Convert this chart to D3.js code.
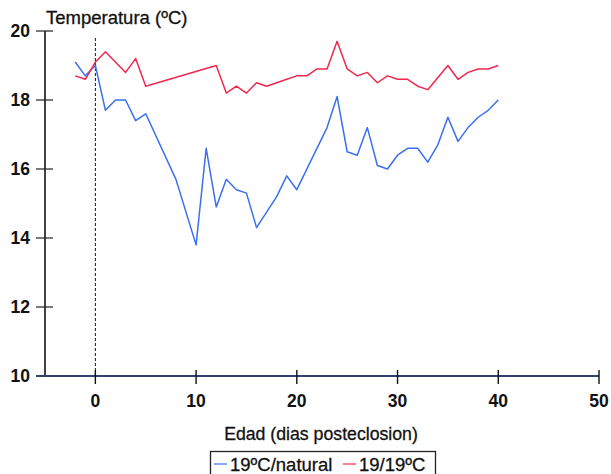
<!DOCTYPE html>
<html>
<head>
<meta charset="utf-8">
<script src="https://cdn.jsdelivr.net/npm/d3@7"></script>
<style>
  html, body { margin: 0; padding: 0; background: #fff; }
  svg { display: block; font-family: "Liberation Sans", Arial, sans-serif; }
</style>
</head>
<body>
<svg id="chart" width="611" height="474"></svg>
<script>
// Age in days post-hatching and water temperature for each treatment
const naturalDays = [-2, -1, 0, 1, 2, 3, 4, 5, 8, 10, 11, 12, 13, 14, 15, 16, 18, 19, 20, 23, 24, 25, 26, 27, 28, 29, 30, 31, 32, 33, 34, 35, 36, 37, 38, 39, 40];
const naturalTemp = [19.1, 18.7, 19.0, 17.7, 18.0, 18.0, 17.4, 17.6, 15.7, 13.8, 16.6, 14.9, 15.7, 15.4, 15.3, 14.3, 15.2, 15.8, 15.4, 17.2, 18.1, 16.5, 16.4, 17.2, 16.1, 16.0, 16.4, 16.6, 16.6, 16.2, 16.7, 17.5, 16.8, 17.2, 17.5, 17.7, 18.0];

const constDays = [-2, -1, 0, 1, 3, 4, 5, 12, 13, 14, 15, 16, 17, 18, 19, 20, 21, 22, 23, 24, 25, 26, 27, 28, 29, 30, 31, 32, 33, 35, 36, 37, 38, 39, 40];
const constTemp = [18.7, 18.6, 19.1, 19.4, 18.8, 19.2, 18.4, 19.0, 18.2, 18.4, 18.2, 18.5, 18.4, 18.5, 18.6, 18.7, 18.7, 18.9, 18.9, 19.7, 18.9, 18.7, 18.8, 18.5, 18.7, 18.6, 18.6, 18.4, 18.3, 19.0, 18.6, 18.8, 18.9, 18.9, 19.0];

const xTicks = [0, 10, 20, 30, 40, 50];
const yTicks = [10, 12, 14, 16, 18, 20];

const seriesNames = ["19ºC/natural", "19/19ºC"];
const seriesColors = ["#3b6ff2", "#f0284e"];

const svg = d3.select("#chart");

const x = d3.scaleLinear().domain([-5, 50]).range([45, 599]);
const y = d3.scaleLinear().domain([10, 20]).range([376, 31]);

// Y axis: plain line with ticks crossing it
svg.append("line")
  .attr("x1", x(-5)).attr("x2", x(-5))
  .attr("y1", y(20)).attr("y2", y(10))
  .attr("stroke", "#111").attr("stroke-width", 1.6);

const yAxis = svg.append("g");
yAxis.selectAll("line").data(yTicks).join("line")
  .attr("x1", x(-5) - 9).attr("x2", x(-5) + 8)
  .attr("y1", d => y(d)).attr("y2", d => y(d))
  .attr("stroke", "#222").attr("stroke-width", 1.2);
yAxis.selectAll("text").data(yTicks).join("text")
  .attr("x", 30).attr("y", d => y(d))
  .attr("dy", "0.36em")
  .attr("text-anchor", "end")
  .attr("font-size", 17.5).attr("font-weight", "bold")
  .attr("fill", "#111")
  .text(d => d);

// X axis
svg.append("line")
  .attr("x1", 36).attr("x2", x(50))
  .attr("y1", y(10)).attr("y2", y(10))
  .attr("stroke", "#34406e").attr("stroke-width", 1.8);

const xAxis = svg.append("g");
xAxis.selectAll("line").data(xTicks).join("line")
  .attr("x1", d => x(d)).attr("x2", d => x(d))
  .attr("y1", y(10) - 6).attr("y2", y(10) + 8)
  .attr("stroke", "#111").attr("stroke-width", 1.4);
xAxis.selectAll("text").data(xTicks).join("text")
  .attr("x", d => x(d)).attr("y", 407)
  .attr("text-anchor", "middle")
  .attr("font-size", 17.5).attr("font-weight", "bold")
  .attr("fill", "#111")
  .text(d => d);

// Hatching day marker
svg.append("line")
  .attr("x1", x(0)).attr("x2", x(0))
  .attr("y1", 38).attr("y2", y(10))
  .attr("stroke", "#111").attr("stroke-width", 1)
  .attr("stroke-dasharray", "3,2");

// Titles
svg.append("text")
  .attr("x", 46).attr("y", 23.5)
  .attr("font-size", 18.5).attr("fill", "#111")
  .attr("stroke", "#111").attr("stroke-width", 0.3)
  .text("Temperatura (ºC)");

svg.append("text")
  .attr("x", 321).attr("y", 440)
  .attr("text-anchor", "middle")
  .attr("font-size", 17.7).attr("fill", "#111")
  .attr("stroke", "#111").attr("stroke-width", 0.3)
  .text("Edad (dias posteclosion)");

// Temperature lines
const line = d3.line().x(d => x(d[0])).y(d => y(d[1]));
const series = [
  d3.zip(naturalDays, naturalTemp),
  d3.zip(constDays, constTemp)
];
svg.selectAll("path.series").data(series).join("path")
  .attr("class", "series")
  .attr("d", line)
  .attr("fill", "none")
  .attr("stroke", (d, i) => seriesColors[i])
  .attr("stroke-width", 1.5)
  .attr("stroke-linejoin", "round");

// Legend
const legend = svg.append("g");
legend.append("rect")
  .attr("x", 210.5).attr("y", 451.5)
  .attr("width", 225).attr("height", 30)
  .attr("fill", "none").attr("stroke", "#222").attr("stroke-width", 1.3);

const legendX = [214, 343];
seriesNames.forEach((name, i) => {
  legend.append("line")
    .attr("x1", legendX[i]).attr("x2", legendX[i] + 13)
    .attr("y1", 464).attr("y2", 464)
    .attr("stroke", seriesColors[i]).attr("stroke-width", 1.2);
  legend.append("text")
    .attr("x", legendX[i] + 16).attr("y", 471)
    .attr("font-size", 18.5).attr("fill", "#111")
    .attr("stroke", "#111").attr("stroke-width", 0.3)
    .text(name);
});
</script>
</body>
</html>
